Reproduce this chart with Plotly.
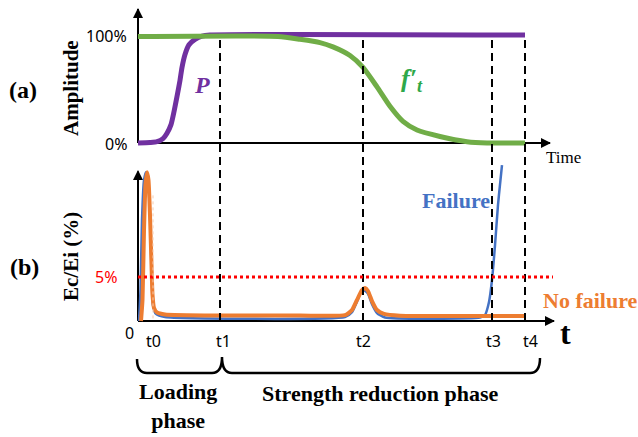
import plotly.graph_objects as go

W, H = 638, 437

# ---------------- data ----------------
# shared time axis (arbitrary units)
event_labels = ["t0", "t1", "t2", "t3", "t4"]
event_times = [15, 82, 225, 354, 387]
event_label_shift = [0, 3, 0, 1, 5]

amp_ticks = [0, 1]
amp_tick_text = ["0%", "100%"]

# (a) Amplitude curves
p_time = [0, 12, 19, 25, 29, 33, 36, 39, 42, 44, 47, 51, 57, 64, 72, 387]
p_amp = [0, 0.005, 0.012, 0.04, 0.09, 0.17, 0.29, 0.43, 0.58, 0.70, 0.82, 0.91, 0.96, 0.99, 1.0, 1.0]

ft_time = [0, 140, 162, 182, 195, 212, 225, 239, 252, 265, 279, 302, 329, 349, 387]
ft_amp = [0.986, 0.986, 0.96, 0.93, 0.89, 0.81, 0.70, 0.52, 0.34, 0.20, 0.12, 0.06, 0.012, 0.0, 0.0]

# (b) Ec/Ei (%) curves
threshold = 5
fail_time = [1, 2.5, 4, 6, 8, 10, 12, 13.5, 15, 18, 27, 207, 214, 219, 223, 226, 230, 234, 239, 247,
             342, 347, 351, 354, 357, 360, 362, 364]
fail_ec = [0, 3.5, 11.5, 16.0, 16.9, 16.2, 12.0, 5.8, 1.8, 0.8, 0.45, 0.45, 1.0, 2.2, 3.3, 3.5, 3.1, 1.9, 0.9, 0.4,
           0.4, 0.68, 2.16, 4.66, 8.6, 13.2, 15.5, 17.7]

nofail_time = [3, 4.5, 6, 7.5, 9, 10.5, 12, 13.5, 14.5, 16, 19, 27, 82, 162, 207, 214, 219, 224, 227, 230, 234,
               239, 246, 262, 387]
nofail_ec = [0, 2.4, 10.3, 15.5, 16.9, 16.0, 12.0, 6.4, 3.0, 1.5, 0.97, 0.74, 0.62, 0.62, 0.66, 1.25, 2.39, 3.52,
             3.75, 3.41, 2.27, 1.25, 0.8, 0.6, 0.57]

# ---------------- colours / fonts ----------------
PURPLE = "#7030A0"
GREEN = "#70AD47"
GREEN_TXT = "#2EA84A"
BLUE = "#4472C4"
ORANGE = "#ED7D31"
SERIF = "Liberation Serif, Times New Roman, serif"
SANS = "Noto Sans, Liberation Sans, sans-serif"

# pixel scales of the two panels (used only to place axes/domains)
TOP_PX_PER_UNIT = 108.0
BOT_PX_PER_UNIT = 8.8


def py2paper(py):
    return 1 - py / H


def px2paper(px):
    return px / W


fig = go.Figure()

# (a)
fig.add_trace(go.Scatter(x=p_time, y=p_amp, mode="lines", xaxis="x", yaxis="y",
                         line=dict(color=PURPLE, width=5, shape="spline", smoothing=0.6)))
fig.add_trace(go.Scatter(x=ft_time, y=ft_amp, mode="lines", xaxis="x", yaxis="y",
                         line=dict(color=GREEN, width=5, shape="spline", smoothing=0.6)))
# (b)
fig.add_trace(go.Scatter(x=fail_time, y=fail_ec, mode="lines", xaxis="x", yaxis="y2",
                         line=dict(color=BLUE, width=2.5, shape="spline", smoothing=0.5)))
fig.add_trace(go.Scatter(x=nofail_time, y=nofail_ec, mode="lines", xaxis="x", yaxis="y2",
                         line=dict(color=ORANGE, width=4, shape="spline", smoothing=0.5)))

shapes = []
# axis lines (under the curves)
shapes += [
    dict(type="line", xref="x", yref="y", x0=0, x1=412, y0=0, y1=0, layer="below",
         line=dict(color="black", width=2)),
    dict(type="line", xref="x", yref="y", x0=0, x1=0, y0=0, y1=1.24, layer="below",
         line=dict(color="black", width=2)),
    dict(type="line", xref="x", yref="y2", x0=0, x1=416, y0=0, y1=0, layer="below",
         line=dict(color="black", width=2)),
    dict(type="line", xref="x", yref="y2", x0=0, x1=0, y0=0, y1=17.0, layer="below",
         line=dict(color="black", width=2)),
]
# event dashed lines across both panels
for t in event_times[1:]:
    shapes.append(dict(type="line", xref="x", yref="paper", x0=t, x1=t,
                       y0=py2paper(321), y1=py2paper(37),
                       line=dict(color="black", width=2, dash="8px,5px")))
# 5 % threshold
shapes.append(dict(type="line", xref="x", yref="y2", x0=0, x1=415, y0=threshold, y1=threshold,
                   line=dict(color="#FF0000", width=3, dash="dot")))
# faint dotted line at t0
shapes.append(dict(type="line", xref="x", yref="y2", x0=event_times[0], x1=event_times[0], y0=0.3, y1=14.3,
                   line=dict(color="#F8CBAD", width=1, dash="dot")))


# braces (phase brackets)
def bx(px):
    return px - 138


def by(py):
    return py2paper(py)


brace = (f"M {bx(137)} {by(359)} Q {bx(137)} {by(373)} {bx(147)} {by(373)} "
         f"L {bx(212)} {by(373)} Q {bx(222)} {by(373)} {bx(222)} {by(357)} "
         f"Q {bx(222)} {by(373)} {bx(232)} {by(373)} "
         f"L {bx(530)} {by(373)} Q {bx(540)} {by(373)} {bx(540)} {by(358)}")
shapes.append(dict(type="path", xref="x", yref="paper", path=brace,
                   line=dict(color="black", width=2.5)))

anns = []
# arrow heads
for (x, y, ax, ay, yr) in [(413, 0, 403, 0, "y"), (0, 1.25, 0, 1.17, "y"),
                           (417, 0, 407, 0, "y2"), (0, 17.16, 0, 16.2, "y2")]:
    anns.append(dict(x=x, y=y, ax=ax, ay=ay, xref="x", yref=yr, axref="x", ayref=yr, text="",
                     showarrow=True, arrowhead=2, arrowsize=1, arrowwidth=2, arrowcolor="black"))


def txt(text, px, py, size, color="black", family=SERIF, xanchor="center", angle=0):
    anns.append(dict(text=text, x=px2paper(px), y=py2paper(py), xref="paper", yref="paper",
                     showarrow=False, xanchor=xanchor, yanchor="middle", textangle=angle,
                     font=dict(size=size, color=color, family=family)))


# amplitude tick labels (value -> pixel row of the top panel, 0 at y=143)
for v, s in zip(amp_ticks, amp_tick_text):
    txt(s, 129, 143 - v * TOP_PX_PER_UNIT + 1, 16, family=SANS, xanchor="right")
# threshold label
txt(f"{threshold}%", 119, 321 - threshold * BOT_PX_PER_UNIT, 16, color="#FF0000", family=SANS, xanchor="right")
# event tick labels
for lab, t, sh in zip(event_labels, event_times, event_label_shift):
    anns.append(dict(text=lab, x=t, y=py2paper(341), xref="x", yref="paper", showarrow=False,
                     xanchor="center", yanchor="middle", xshift=sh,
                     font=dict(size=16, color="black", family=SANS)))
txt("0", 129, 333, 16, family=SANS)

txt("<b>(a)</b>", 23, 90, 24)
txt("<b>Amplitude</b>", 71, 88, 21, angle=-90)
txt("<b>(b)</b>", 24, 267, 24)
txt("<b>Ec/Ei (%)</b>", 71, 257, 21, angle=-90)
txt("<b><i>P</i></b>", 202, 85, 24, color=PURPLE)
txt("<b><i>f′<sub>t</sub></i></b>", 412, 80, 26, color=GREEN_TXT)
txt("Time", 563, 157, 17)
txt("<b>Failure</b>", 456, 200, 22, color=BLUE)
txt("<b>No failure</b>", 541, 300, 22, color=ORANGE, xanchor="left")
txt("<b>t</b>", 565, 333, 32)
txt("<b>Loading<br>phase</b>", 178, 406, 22)
txt("<b>Strength reduction phase</b>", 380, 393, 22)

fig.update_layout(
    width=W, height=H, margin=dict(l=0, r=0, t=0, b=0),
    paper_bgcolor="white", plot_bgcolor="rgba(0,0,0,0)",
    showlegend=False,
    xaxis=dict(domain=[135 / W, 558 / W], range=[-3, 420], visible=False, anchor="y2"),
    yaxis=dict(domain=[1 - 146 / H, 1 - 5 / H], range=[-3 / TOP_PX_PER_UNIT, 138 / TOP_PX_PER_UNIT],
               visible=False, anchor="x"),
    yaxis2=dict(domain=[1 - 324 / H, 1 - 160 / H],
                range=[-3 / BOT_PX_PER_UNIT, 161 / BOT_PX_PER_UNIT], visible=False, anchor="x"),
    shapes=shapes, annotations=anns,
)

fig.write_html("out.html")
